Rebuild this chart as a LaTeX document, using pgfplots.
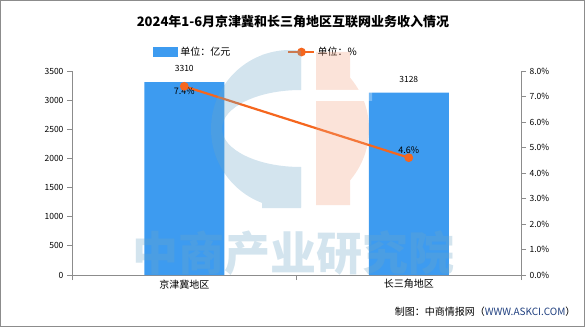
\documentclass[border=0pt]{standalone}
\usepackage{fontspec}
\usepackage{pgfplots}
\pgfplotsset{compat=1.18}
\setmainfont{Noto Sans CJK SC}
\definecolor{barblue}{HTML}{3D9BF0}
\definecolor{lineorange}{HTML}{F5661E}
\definecolor{axgray}{HTML}{8C8C8C}
\definecolor{wmblue}{HTML}{6CA5C6}
\definecolor{wmpink}{HTML}{F2A280}
\begin{document}
\begin{tikzpicture}[x=1pt,y=1pt]
\path[use as bounding box] (0,0) rectangle (585,327);
\draw[axgray, line width=1.2pt] (0.6,0.6) rectangle (584.4,326.4);
\node[font=\bfseries\fontsize{13}{15}\selectfont] at (293,305) {2024年1-6月京津冀和长三角地区互联网业务收入情况};
\begin{axis}[
  at={(72pt,52pt)}, anchor=south west, scale only axis,
  width=449pt, height=204pt,
  xmin=-0.5, xmax=1.5, ymin=0, ymax=3500,
  axis x line*=bottom, axis y line*=left,
  axis line style={axgray, line width=0.8pt},
  tick style={axgray, line width=0.8pt},
  tick align=outside, major tick length=5pt,
  ytick={0,500,...,3500},
  xtick={-0.5,0.5,1.5}, xticklabels={},
  extra x ticks={0,1}, extra x tick labels={京津冀地区,长三角地区},
  extra x tick style={major tick length=0pt, tick label style={font=\fontsize{10}{12}\selectfont, yshift=-1pt}},
  yticklabel style={font=\fontsize{8.5}{10}\selectfont},
  /pgf/number format/assume math mode=true,
  /pgf/number format/1000 sep={},
  clip=false,
]
\addplot[ybar, bar width=80pt, fill=barblue, draw=none,
  nodes near coords, nodes near coords style={font=\fontsize{8.5}{10}\selectfont, black, anchor=south, yshift=7pt}]
  coordinates {(0,3310) (1,3128)};
\end{axis}
\begin{axis}[
  at={(72pt,52pt)}, anchor=south west, scale only axis,
  width=449pt, height=204pt,
  xmin=-0.5, xmax=1.5, ymin=0, ymax=8,
  axis x line=none, axis y line*=right,
  axis line style={axgray, line width=0.8pt},
  tick style={axgray, line width=0.8pt},
  tick align=outside, major tick length=5pt,
  ytick={0,1,...,8},
  yticklabel={\pgfmathprintnumber[fixed,fixed zerofill,precision=1]{\tick}\%},
  yticklabel style={font=\fontsize{8.5}{10}\selectfont},
  /pgf/number format/assume math mode=true,
  clip=false,
  legend columns=2,
  legend style={draw=none, fill=none, at={(0.41,1.093)}, anchor=center,
    font=\fontsize{10}{12}\selectfont, /tikz/every even column/.append style={column sep=55pt}},
  legend image code/.code={},
]
\addlegendimage{area legend, fill=barblue, draw=none, legend image code/.code={\fill[barblue] (0pt,-5pt) rectangle (25pt,5pt);}}
\addlegendentry{单位：亿元}
\addplot[lineorange, line width=2.2pt, mark=*, mark size=3.2pt, mark options={fill=lineorange, draw=lineorange},
  legend image code/.code={\draw[lineorange, line width=2.2pt] (0pt,0pt) -- (26pt,0pt); \fill[lineorange] (13pt,0pt) circle (3.2pt);}]
  coordinates {(0,7.4) (1,4.6)};
\addlegendentry{单位：\%}
\node[font=\fontsize{9}{10}\selectfont] at (axis cs:0,7.4) [yshift=-5pt] {7.4\%};
\node[font=\fontsize{9}{10}\selectfont] at (axis cs:1,4.6) [yshift=8pt] {4.6\%};
\end{axis}
% watermark (logo and text), drawn translucent over the chart
\begin{scope}[transparency group, opacity=0.3]
  \begin{scope}
    \clip (200,100) rectangle (301,290);
    \fill[wmblue, even odd rule] (290,198) circle (79) (301,198.5) ellipse (79 and 38.5);
    \fill[wmblue] (262,237) rectangle (301,272);
    \fill[wmblue] (262,119) rectangle (301,160);
  \end{scope}
  \begin{scope}
    \clip (316,100) rectangle (400,290);
    \fill[wmpink] (290,198) circle (79);
    \fill[wmpink] (316,122) rectangle (350,275);
  \end{scope}
  \fill[white] (316,226) rectangle (372,237);
  \node[wmblue, font=\bfseries\fontsize{46}{50}\selectfont] at (293,74) {中商产业研究院};
\end{scope}
\node[font=\fontsize{10}{12}\selectfont, anchor=east] at (579,15) {制图：中商情报网（\textcolor[HTML]{1F3F7F}{WWW.ASKCI.COM}）};
\end{tikzpicture}
\end{document}
